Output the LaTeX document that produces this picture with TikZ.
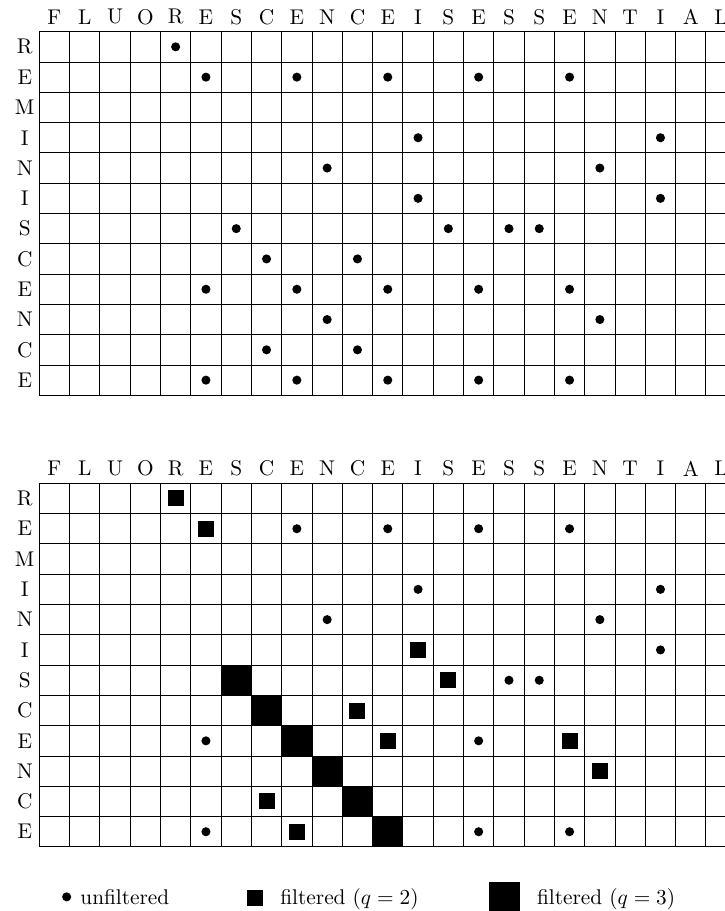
\documentclass[tikz,border=0pt]{standalone}
\begin{document}
\begin{tikzpicture}[x=0.5cm,y=0.5cm,
  lbl/.style={inner sep=0pt},
  key/.style={inner sep=0pt,anchor=base west}]
\clip (0,0) rectangle (23.927,-30.066);
% dot plot
\begin{scope}[shift={(1.297,-1.046)}]
\draw[line width=0.4pt,step=0.5cm] (0,0) grid (23,-12);
\foreach \lt [count=\i from 0] in {F,L,U,O,R,E,S,C,E,N,C,E,I,S,E,S,S,E,N,T,I,A,L}
  \node[lbl] (tcol\i) at (\i+0.5,0.49) {\lt};
\foreach \lt [count=\j from 0] in {R,E,M,I,N,I,S,C,E,N,C,E}
  \node[lbl] (trow\j) at (-0.48,-\j-0.5) {\lt};
\foreach \x/\y in {4/0,5/1,8/1,11/1,14/1,17/1,12/3,20/3,9/4,18/4,12/5,20/5,
  6/6,13/6,15/6,16/6,7/7,10/7,5/8,8/8,11/8,14/8,17/8,9/9,18/9,7/10,10/10,
  5/11,8/11,11/11,14/11,17/11}
  \fill (\x+0.5,-\y-0.5) circle (0.15);
\end{scope}
% filtered dot plot
\begin{scope}[shift={(1.297,-15.95)}]
\foreach \x/\y in {6/6,7/7,8/8,9/9,10/10,11/11}
  \fill (\x,-\y-1) rectangle ++(1,1);
\draw[line width=0.4pt,step=0.5cm] (0,0) grid (23,-12);
\foreach \lt [count=\i from 0] in {F,L,U,O,R,E,S,C,E,N,C,E,I,S,E,S,S,E,N,T,I,A,L}
  \node[lbl] (bcol\i) at (\i+0.5,0.49) {\lt};
\foreach \lt [count=\j from 0] in {R,E,M,I,N,I,S,C,E,N,C,E}
  \node[lbl] (brow\j) at (-0.48,-\j-0.5) {\lt};
\foreach \x/\y in {8/1,11/1,14/1,17/1,12/3,20/3,9/4,18/4,20/5,15/6,16/6,
  5/8,14/8,5/11,14/11,17/11}
  \fill (\x+0.5,-\y-0.5) circle (0.15);
\foreach \x/\y in {4/0,5/1,12/5,13/6,10/7,11/8,17/8,18/9,7/10,8/11}
  \fill (\x+0.236,-\y-0.764) rectangle ++(0.528,0.528);
\end{scope}
% legend
\fill (2.2,-29.6) circle (0.15);
\node[key] (kunf) at (2.64,-29.84) {unfiltered};
\fill (8.141,-29.904) rectangle ++(0.528,0.528);
\node[key] (kq2) at (9.24,-29.84) {filtered ($q=2$)};
\fill (16.15,-30.1) rectangle ++(1,1);
\node[key] (kq3) at (17.71,-29.84) {filtered ($q=3$)};
\end{tikzpicture}
\end{document}
